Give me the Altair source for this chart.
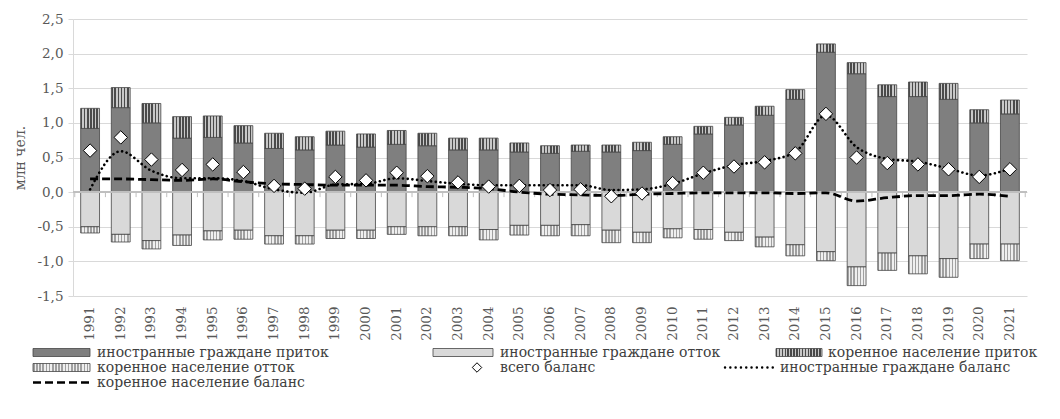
import altair as alt
import pandas as pd

years = [str(y) for y in range(1991, 2022)]

# foreign citizens inflow / outflow, native population inflow / outflow (million people)
foreign_in = [0.92, 1.22, 1.00, 0.78, 0.79, 0.71, 0.63, 0.61, 0.68, 0.65, 0.69, 0.67, 0.61, 0.61, 0.58, 0.56,
              0.59, 0.58, 0.60, 0.69, 0.84, 0.97, 1.11, 1.34, 2.02, 1.71, 1.38, 1.38, 1.34, 1.00, 1.13]
native_in = [0.29, 0.29, 0.28, 0.31, 0.31, 0.25, 0.22, 0.19, 0.20, 0.19, 0.20, 0.18, 0.17, 0.17, 0.13, 0.11,
             0.09, 0.10, 0.12, 0.11, 0.11, 0.11, 0.13, 0.14, 0.12, 0.16, 0.17, 0.21, 0.23, 0.19, 0.20]
foreign_out = [-0.50, -0.61, -0.70, -0.62, -0.56, -0.55, -0.63, -0.63, -0.55, -0.55, -0.50, -0.50, -0.50, -0.54,
               -0.48, -0.48, -0.47, -0.55, -0.58, -0.53, -0.54, -0.58, -0.65, -0.76, -0.86, -1.08, -0.88, -0.92,
               -0.96, -0.75, -0.75]
native_out = [-0.09, -0.11, -0.12, -0.15, -0.13, -0.13, -0.12, -0.12, -0.12, -0.12, -0.11, -0.13, -0.13, -0.15,
              -0.14, -0.15, -0.16, -0.18, -0.15, -0.13, -0.14, -0.12, -0.14, -0.16, -0.13, -0.27, -0.25, -0.26,
              -0.27, -0.21, -0.24]
total_balance = [0.60, 0.79, 0.47, 0.32, 0.40, 0.29, 0.09, 0.05, 0.22, 0.17, 0.28, 0.23, 0.14, 0.08, 0.09, 0.03,
                 0.04, -0.06, -0.02, 0.13, 0.28, 0.37, 0.43, 0.56, 1.13, 0.50, 0.42, 0.40, 0.33, 0.22, 0.33]
foreign_balance = [0.04, 0.59, 0.31, 0.20, 0.20, 0.16, 0.04, -0.01, 0.11, 0.12, 0.20, 0.16, 0.12, 0.10, 0.10, 0.10,
                   0.10, 0.03, 0.04, 0.12, 0.27, 0.39, 0.45, 0.58, 1.11, 0.65, 0.48, 0.44, 0.34, 0.24, 0.34]
native_balance = [0.19, 0.19, 0.18, 0.17, 0.19, 0.15, 0.12, 0.11, 0.10, 0.10, 0.10, 0.08, 0.07, 0.05, 0.00, -0.03,
                  -0.04, -0.05, -0.03, -0.02, -0.01, -0.01, -0.01, -0.02, -0.01, -0.13, -0.08, -0.05, -0.05, -0.03,
                  -0.06]

labels = ["иностранные граждане приток", "иностранные граждане отток", "коренное население приток",
          "коренное население отток", "всего баланс", "иностранные граждане баланс", "коренное население баланс"]
y_ticks = [-1.5, -1.0, -0.5, 0.0, 0.5, 1.0, 1.5, 2.0, 2.5]

# legend layout in page pixels (symbol start, symbol end, text start, row)
leg_x0 = [33, 433, 776, 33, 477, 725, 33]
leg_x1 = [90, 493, 822, 90, 477, 773, 90]
leg_tx = [97, 500, 828, 97, 500, 780, 97]
leg_row = [0, 0, 0, 1, 1, 1, 2]

FONT = "DejaVu Serif"
TXT = "#595959"
Y_MIN, Y_MAX = -1.5, 2.5
W, H = 954, 277
PLOT_LEFT = 73
P_INNER, P_OUTER = 0.385, 0.25


def stripes(c1, c2, n):
    stops = []
    for k in range(n):
        a, b, c = k / n, (k + 0.5) / n, (k + 1) / n
        stops += [alt.GradientStop(offset=a, color=c1), alt.GradientStop(offset=b, color=c1),
                  alt.GradientStop(offset=b, color=c2), alt.GradientStop(offset=c, color=c2)]
    return alt.LinearGradient(gradient="linear", stops=stops, x1=0, x2=1, y1=0, y2=0)


fills = {
    labels[0]: "#7f7f7f",
    labels[1]: "#d9d9d9",
    labels[2]: stripes("#4a4a4a", "#c8c8c8", 6),
    labels[3]: stripes("#a0a0a0", "#efefef", 6),
}
legend_fills = {
    labels[0]: "#7f7f7f",
    labels[1]: "#d9d9d9",
    labels[2]: stripes("#4a4a4a", "#c8c8c8", 16),
    labels[3]: stripes("#a0a0a0", "#efefef", 18),
}

rows = []
for i, yr in enumerate(years):
    rows.append(dict(year=yr, series=labels[0], lo=0.0, hi=foreign_in[i]))
    rows.append(dict(year=yr, series=labels[2], lo=foreign_in[i], hi=foreign_in[i] + native_in[i]))
    rows.append(dict(year=yr, series=labels[1], lo=foreign_out[i], hi=0.0))
    rows.append(dict(year=yr, series=labels[3], lo=foreign_out[i] + native_out[i], hi=foreign_out[i]))
bars = pd.DataFrame(rows)

tick_len = 5 * (Y_MAX - Y_MIN) / H
pts = pd.DataFrame({"year": years, "total": total_balance, "foreign": foreign_balance, "native": native_balance,
                    "zero": 0.0, "tick": -tick_len})

xscale = alt.Scale(paddingInner=P_INNER, paddingOuter=P_OUTER)
x_axis = alt.Axis(title=None, labelAngle=-90, domain=False, ticks=False, labelFont=FONT, labelFontSize=13.5,
                  labelColor=TXT, labelPadding=10, grid=False)

yscale = alt.Scale(domain=[Y_MIN, Y_MAX], nice=False)
y_axis = alt.Axis(values=y_ticks, title="млн чел.", grid=True,
                  labelExpr="(datum.value < 0 ? '-' : '') + replace(format(abs(datum.value), '.1f'), '.', ',')",
                  labelFont=FONT, labelFontSize=13.5, labelColor=TXT, titleFont=FONT, titleFontSize=14,
                  titleFontWeight="normal", titleColor=TXT, titlePadding=9, gridColor="#d9d9d9", gridWidth=1,
                  domainColor="#d9d9d9", tickColor="#d9d9d9", tickSize=5, labelPadding=5, labelOverlap=False)


def X(**kw):
    return alt.X("year:N", scale=xscale, axis=x_axis, **kw)


def Y(field):
    return alt.Y(field, scale=yscale, axis=y_axis)


layers = []
for name in [labels[0], labels[2], labels[1], labels[3]]:
    layers.append(
        alt.Chart(bars).transform_filter(alt.datum.series == name)
        .mark_bar(fill=fills[name], stroke="#454545", strokeWidth=0.8)
        .encode(x=X(), y=Y("lo:Q"), y2="hi:Q")
    )

# zero line with category ticks
step = W / (len(years) - P_INNER + 2 * P_OUTER)
gap_half = P_INNER * step / 2
zero_line = alt.Chart(pts).mark_rule(color="#bfbfbf", strokeWidth=1.5).encode(
    y=Y("zero:Q"), x=alt.value(0), x2=alt.value(W))
zero_ticks = alt.Chart(pts).mark_rule(color="#bfbfbf", strokeWidth=1, xOffset=-gap_half).encode(
    x=X(bandPosition=0), y=Y("zero:Q"), y2="tick:Q")
end_tick = alt.Chart(pts).transform_filter(alt.datum.year == years[-1]).mark_rule(
    color="#bfbfbf", strokeWidth=1, xOffset=gap_half).encode(
    x=X(bandPosition=1), y=Y("zero:Q"), y2="tick:Q")

dotted = alt.Chart(pts).mark_line(color="black", strokeWidth=2.6, strokeDash=[0.1, 4.6], strokeCap="round",
                                  interpolate="monotone").encode(x=X(), y=Y("foreign:Q"))
dashed = alt.Chart(pts).mark_line(color="black", strokeWidth=2.8, strokeDash=[8, 4],
                                  interpolate="monotone").encode(x=X(), y=Y("native:Q"))
diamonds = alt.Chart(pts).mark_point(shape="diamond", filled=True, fill="white", stroke="black", strokeWidth=1,
                                     size=180, opacity=1).encode(x=X(), y=Y("total:Q"))

top = alt.layer(*layers, zero_line, zero_ticks, end_tick, dashed, dotted, diamonds).properties(width=W, height=H)

# ---- legend panel (its origin is aligned with the plot's left edge) ----
LH = 45
leg = pd.DataFrame({"label": labels, "x0": leg_x0, "x1": leg_x1, "tx": leg_tx,
                    "yc": [7.5 + 15 * r for r in leg_row]})
leg["ya"] = leg["yc"] - 4
leg["yb"] = leg["yc"] + 4
lx = alt.Scale(domain=[PLOT_LEFT, PLOT_LEFT + W])
ly = alt.Scale(domain=[LH, 0])
LX = alt.X("x0:Q", scale=lx, axis=None)
leg_layers = []
for name in labels[:4]:
    leg_layers.append(
        alt.Chart(leg).transform_filter(alt.datum.label == name)
        .mark_rect(fill=legend_fills[name], stroke="#454545", strokeWidth=0.8)
        .encode(x=LX, x2="x1:Q", y=alt.Y("ya:Q", scale=ly, axis=None), y2="yb:Q")
    )
leg_layers.append(
    alt.Chart(leg).transform_filter(alt.datum.label == labels[4])
    .mark_point(shape="diamond", filled=True, fill="white", stroke="black", strokeWidth=1, size=90, opacity=1)
    .encode(x=LX, y=alt.Y("yc:Q", scale=ly, axis=None))
)
leg_layers.append(
    alt.Chart(leg).transform_filter(alt.datum.label == labels[5])
    .mark_rule(color="black", strokeWidth=2.4, strokeDash=[0.1, 5.2], strokeCap="round")
    .encode(x=LX, x2="x1:Q", y=alt.Y("yc:Q", scale=ly, axis=None))
)
leg_layers.append(
    alt.Chart(leg).transform_filter(alt.datum.label == labels[6])
    .mark_rule(color="black", strokeWidth=2.6, strokeDash=[8, 4])
    .encode(x=LX, x2="x1:Q", y=alt.Y("yc:Q", scale=ly, axis=None))
)
leg_layers.append(
    alt.Chart(leg).mark_text(align="left", baseline="middle", font=FONT, fontSize=14, color="#404040")
    .encode(x=alt.X("tx:Q", scale=lx, axis=None), y=alt.Y("yc:Q", scale=ly, axis=None), text="label:N")
)
legend = alt.layer(*leg_layers).properties(width=W, height=LH)

chart = (
    alt.vconcat(top, legend, spacing=4)
    .properties(padding={"left": 5, "top": 4, "right": 0, "bottom": 0})
    .configure_view(stroke=None)
)

chart.save("out.html", embed_options={"renderer": "svg", "actions": False})
